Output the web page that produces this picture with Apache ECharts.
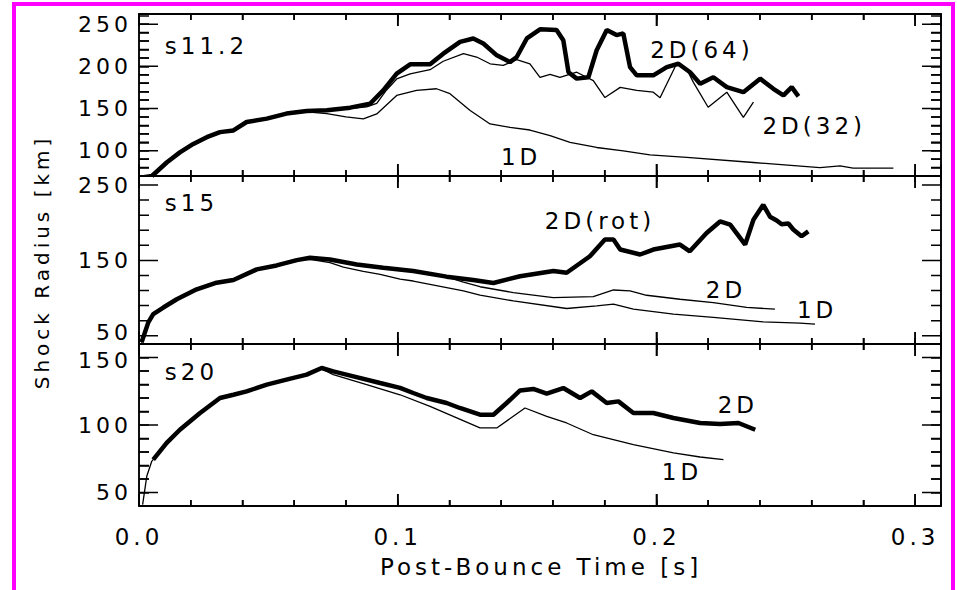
<!DOCTYPE html>
<html>
<head>
<meta charset="utf-8">
<script src="https://cdn.jsdelivr.net/npm/echarts@6/dist/echarts.min.js"></script>
<style>
  html, body { margin: 0; padding: 0; background: #fff; }
  #wrap { position: relative; width: 957px; height: 590px; overflow: hidden; }
  #main { width: 957px; height: 590px; }
  /* magenta page frame of the original figure, its bottom edge is cut off */
  #frame { position: absolute; left: 12px; top: 2px; width: 935px; height: 700px;
           border: 4px solid #ff00ff; pointer-events: none; }
  /* the original vector font is very wide, spread the letters a bit */
  #main text { letter-spacing: 4px; }
</style>
</head>
<body>
<div id="wrap"><div id="main"></div><div id="frame"></div></div>
<script>
// shock radius vs post-bounce time, three progenitors stacked

// s11.2
const s11_1D = [[0.001,70],[0.005,72],[0.0107,85],[0.0158,97],[0.021,107],[0.0262,115],[0.0313,121],[0.0365,123],[0.0416,133],[0.0494,137],[0.057,143],[0.0648,146],[0.0726,144],[0.080,140],[0.0867,137.7],[0.0919,143.6],[0.0996,165.5],[0.1073,171.4],[0.115,173.4],[0.1202,167.5],[0.128,147.6],[0.1357,131.7],[0.1434,127.7],[0.1511,124.5],[0.1589,117.8],[0.1666,109.8],[0.1769,103.8],[0.1872,99.9],[0.1975,95],[0.2117,92],[0.2375,86],[0.2632,80],[0.271,82],[0.276,79.3],[0.2916,79.3]];
const s11_2D32 = [[0.005,70],[0.0107,86],[0.0158,98],[0.021,108],[0.0262,116],[0.0313,122],[0.0365,124],[0.0416,134],[0.0494,138],[0.057,144],[0.0648,147],[0.0726,148],[0.0803,149.6],[0.088,152],[0.0919,156],[0.0957,172],[0.0996,185],[0.1048,191],[0.1125,196],[0.1176,206],[0.1254,215],[0.1305,211],[0.1357,203],[0.1408,201],[0.146,208],[0.1511,203],[0.155,187],[0.1589,190.5],[0.1627,187],[0.1692,193],[0.1756,183],[0.1801,163],[0.186,175],[0.1924,171.4],[0.1988,169.4],[0.2014,162.7],[0.2078,203],[0.2117,197],[0.2143,181],[0.22,151.5],[0.2272,169.4],[0.2336,139.6],[0.2375,157.5]];
const s11_2D64 = [[0.005,70],[0.0107,86],[0.0158,98],[0.021,108],[0.0262,116],[0.0313,122],[0.0365,124],[0.0416,134],[0.0494,138],[0.057,144],[0.0648,147],[0.0726,148],[0.0816,151],[0.0893,155.6],[0.0944,171.4],[0.0996,191.3],[0.1048,202.4],[0.1125,202.4],[0.1176,215],[0.1241,229],[0.1292,233],[0.1331,227],[0.1383,213],[0.1434,205],[0.146,211],[0.1499,233],[0.155,243.8],[0.1614,243],[0.164,231],[0.166,193],[0.1692,185.4],[0.1737,187],[0.1769,219],[0.1808,243],[0.1846,237],[0.1872,239],[0.1898,199],[0.1924,189.3],[0.1988,189.3],[0.204,199],[0.2085,203],[0.213,193],[0.2169,179.4],[0.222,187],[0.2272,175.3],[0.2336,169.4],[0.2401,185.4],[0.2452,173.4],[0.2491,165.5],[0.2523,175.3],[0.2549,164.3]];

// s15
const s15_1D = [[0.001,41],[0.0036,67],[0.0055,78],[0.0094,87],[0.0146,98],[0.0223,111],[0.03,120],[0.0365,123.5],[0.0455,137.5],[0.0532,143],[0.061,150],[0.0661,151.5],[0.0738,147],[0.079,141],[0.0867,135.5],[0.0932,131.4],[0.1009,125],[0.106,122.6],[0.1254,109.4],[0.1318,104],[0.1447,96.2],[0.1653,86.1],[0.1769,89.6],[0.1834,91.8],[0.1911,85.2],[0.2066,78.6],[0.222,74.3],[0.2413,68.5],[0.2555,66.8],[0.2613,65.4]];
const s15_2D = [[0.001,41],[0.0036,67.5],[0.0055,78.4],[0.0094,87.2],[0.0146,98.2],[0.0223,111.4],[0.03,120.2],[0.0365,123.7],[0.0455,137.8],[0.0532,143.1],[0.061,150.1],[0.0661,153],[0.0738,151],[0.0842,144.4],[0.0944,140],[0.1009,137.5],[0.106,135.5],[0.1189,128],[0.1254,121],[0.1318,115],[0.1447,107.2],[0.1601,100.6],[0.1756,102],[0.1834,110.7],[0.1898,109.4],[0.1962,103.7],[0.2091,98.4],[0.222,94],[0.2349,87.5],[0.2458,85.2]];
const s15_rot = [[0.001,41.3],[0.0036,67.7],[0.0055,78.6],[0.0094,87.4],[0.0146,98.4],[0.0223,111.6],[0.03,120.4],[0.0365,123.9],[0.0455,138],[0.0532,143.3],[0.061,150.3],[0.0661,153.4],[0.0738,151.2],[0.0842,144.6],[0.0944,140.2],[0.106,135.8],[0.1189,128.4],[0.1292,123.9],[0.137,120],[0.1473,129],[0.1602,135.8],[0.1653,133.6],[0.1743,155.5],[0.1801,177.6],[0.1834,177.6],[0.186,164.4],[0.1937,157.8],[0.1988,164.4],[0.2091,171],[0.2129,162],[0.2194,186.4],[0.2246,201.7],[0.2285,197.4],[0.2343,171],[0.2375,204],[0.2413,223.7],[0.2439,208],[0.2465,203],[0.2484,198],[0.251,199],[0.2529,191],[0.2561,182],[0.2587,188.5]];

// s20
const s20_1D = [[0.0014,41],[0.003,62],[0.0049,73],[0.0107,86],[0.0158,96],[0.0236,108.5],[0.0313,119.5],[0.0365,122],[0.0416,124.5],[0.0494,129.5],[0.057,133.2],[0.0648,137],[0.0706,141.5],[0.0751,137.3],[0.088,129.9],[0.1009,122.4],[0.1125,113.8],[0.1318,97.8],[0.1383,97.8],[0.1492,112.6],[0.1576,106.4],[0.1653,101.5],[0.1756,92.8],[0.1911,85.4],[0.2066,79.3],[0.2169,76.3],[0.2259,74.3]];
const s20_2D = [[0.0055,74.3],[0.0107,86.7],[0.0158,96.5],[0.0236,108.9],[0.0313,120],[0.0365,122.4],[0.0416,124.9],[0.0494,129.9],[0.057,133.6],[0.0648,137.3],[0.0706,142.2],[0.0751,139.7],[0.0829,136],[0.0932,131.1],[0.1009,127.5],[0.106,123.7],[0.1112,120],[0.1189,116.3],[0.124,112.6],[0.1318,107.6],[0.137,107.6],[0.1421,116.3],[0.1473,125.6],[0.1524,126.7],[0.1576,123.2],[0.164,127.4],[0.1705,120],[0.175,124.9],[0.1808,116.3],[0.1853,117.5],[0.1911,108.9],[0.1988,108.9],[0.2066,105.2],[0.2169,101.5],[0.2246,100.7],[0.2317,101.5],[0.2382,96.5]];

// ticks
const xRange = [0, 0.31];
const xMajor = [0, 0.1, 0.2, 0.3];
const xMinor = [0.02,0.04,0.06,0.08,0.12,0.14,0.16,0.18,0.22,0.24,0.26,0.28];
const yRange = [[70, 262], [39, 262], [40, 160]];
const yStep = [10, null, 10];
const yMajor = [[100,150,200,250], [50,150,250], [50,100,150]];
const yMinor = [[80,90,110,120,130,140,160,170,180,190,210,220,230,240],
                [70,90,110,130,170,190,210,230],
                [60,70,80,90,110,120,130,140]];

// labels on the curves, per panel: [text, t, radius, align]
const curveLabels = [
    [['s11.2',0.01,223.9,'left'],['2D(64)',0.2176,219,'center'],['2D(32)',0.261,129.7,'center'],['1D',0.1477,92.8,'center']],
    [['s15',0.01,226.4,'left'],['2D(rot)',0.1782,202.6,'center'],['2D',0.2269,110.3,'center'],['1D',0.2621,83.9,'center']],
    [['s20',0.01,139.5,'left'],['2D',0.2315,115,'center'],['1D',0.2099,65.4,'center']]
];

const FONT = 'DejaVu Sans';
const FS = 23;
const BLACK = '#000';
const W = 957;
const LINE = { color: BLACK, width: 1.5 };

const grids = [
    { left: 139, right: 16, top: 14, height: 162 },
    { left: 139, right: 16, top: 176, height: 168 },
    { left: 139, right: 16, top: 344, height: 162 }
].map(g => Object.assign(g, { show: true, borderColor: BLACK, borderWidth: 1.5, backgroundColor: 'transparent' }));

// four x axes per panel: bottom/top, major/minor ticks
const xAxes = [];
[0, 1, 2].forEach(g => {
    [['bottom', 0.1, 12], ['bottom', 0.02, 6], ['top', 0.1, 12], ['top', 0.02, 6]].forEach(([pos, step, len], i) => {
        xAxes.push({
            type: 'value', gridIndex: g, position: pos, min: xRange[0], max: xRange[1], interval: step,
            axisLine: { show: true, onZero: false, lineStyle: LINE },
            axisTick: { show: true, inside: true, length: len, lineStyle: LINE },
            splitLine: { show: false },
            axisLabel: {
                show: g === 2 && i === 0, customValues: xMajor, margin: 19,
                formatter: v => v.toFixed(1),
                color: BLACK, fontSize: FS, fontFamily: FONT
            }
        });
    });
});

// the lowest label of a panel and the top label of the panel below sit close together
function yLabel(g) {
    return v => {
        if (g === 1 && v === 50) return '{up|' + v + '}';
        if (g === 2 && v === 150) return '{down|' + v + '}';
        return String(v);
    };
}

// two y axes per panel: left with labels, right mirror
const yAxes = [];
[0, 1, 2].forEach(g => {
    ['left', 'right'].forEach(pos => {
        const ax = {
            type: 'value', gridIndex: g, position: pos, min: yRange[g][0], max: yRange[g][1],
            axisLine: { show: true, onZero: false, lineStyle: LINE },
            axisTick: { show: yStep[g] !== null, inside: true, length: 10, lineStyle: LINE },
            splitLine: { show: false },
            axisLabel: {
                show: pos === 'left', customValues: yMajor[g], margin: 7,
                formatter: yLabel(g),
                color: BLACK, fontSize: 22, fontFamily: FONT,
                rich: {
                    up: { fontSize: 22, fontFamily: FONT, color: BLACK, padding: [0, 0, 6, 0] },
                    down: { fontSize: 22, fontFamily: FONT, color: BLACK, padding: [6, 0, 0, 0] }
                }
            }
        };
        if (yStep[g] !== null) ax.interval = yStep[g];
        yAxes.push(ax);
    });
});

function curve(g, data, width) {
    return {
        type: 'line', xAxisIndex: g * 4, yAxisIndex: g * 2, data: data,
        showSymbol: false, symbol: 'none', smooth: false, silent: true,
        lineStyle: { color: BLACK, width: width },
        animation: false
    };
}

// long major ticks (and panel 2 minor ticks) on all four sides, as short segments in data space
function tickSeries(g) {
    const gr = grids[g];
    const y0 = yRange[g][0], y1 = yRange[g][1];
    const yPerPx = (y1 - y0) / gr.height;
    const xPerPx = (xRange[1] - xRange[0]) / (W - gr.left - gr.right);
    const gap = ['-', '-'];
    const data = [];
    xMajor.map(t => [t, 12]).concat(xMinor.map(t => [t, 6])).forEach(([t, len]) => {
        data.push([t, y0], [t, y0 + len * yPerPx], gap, [t, y1], [t, y1 - len * yPerPx], gap);
    });
    yMajor[g].map(v => [v, 19]).concat(yMinor[g].map(v => [v, 10])).forEach(([v, len]) => {
        data.push([xRange[0], v], [xRange[0] + len * xPerPx, v], gap,
                  [xRange[1], v], [xRange[1] - len * xPerPx, v], gap);
    });
    return {
        type: 'line', xAxisIndex: g * 4, yAxisIndex: g * 2, data: data,
        showSymbol: false, symbol: 'none', connectNulls: false, silent: true,
        lineStyle: { color: BLACK, width: 1.5 },
        animation: false, z: 10
    };
}

const chart = echarts.init(document.getElementById('main'), null, { renderer: 'svg' });

const titles = [
    {
        type: 'text', x: 42, y: 262, rotation: Math.PI / 2,
        style: { text: 'Shock Radius [km]', fill: BLACK, fontSize: 20, fontFamily: FONT, align: 'center', verticalAlign: 'middle' }
    },
    {
        type: 'text', x: 541, y: 567,
        style: { text: 'Post-Bounce Time [s]', fill: BLACK, fontSize: FS, fontFamily: FONT, align: 'center', verticalAlign: 'middle' }
    }
];

chart.setOption({
    animation: false,
    grid: grids,
    xAxis: xAxes,
    yAxis: yAxes,
    series: [
        curve(0, s11_1D, 1.3), curve(0, s11_2D32, 1.3), curve(0, s11_2D64, 4.5),
        curve(1, s15_1D, 1.3), curve(1, s15_2D, 1.3), curve(1, s15_rot, 4.5),
        curve(2, s20_1D, 1.3), curve(2, s20_2D, 4.5),
        tickSeries(0), tickSeries(1), tickSeries(2)
    ]
});

// curve and panel names, placed at their data coordinates
function labelTexts() {
    const els = [];
    curveLabels.forEach((list, g) => list.forEach(([text, t, r, align]) => {
        const p = chart.convertToPixel({ xAxisIndex: g * 4, yAxisIndex: g * 2 }, [t, r]);
        els.push({
            type: 'text', x: p[0], y: p[1], silent: true,
            style: { text, fill: BLACK, fontSize: FS, fontFamily: FONT, align, verticalAlign: 'middle' }
        });
    }));
    return els;
}

chart.setOption({ graphic: titles.concat(labelTexts()) });
</script>
</body>
</html>
